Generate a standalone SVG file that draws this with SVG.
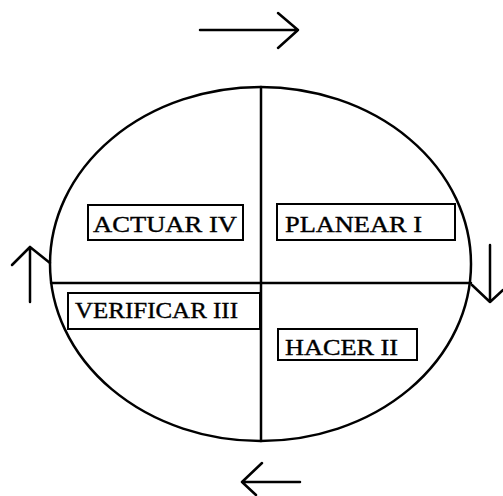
<svg xmlns="http://www.w3.org/2000/svg" width="503" height="496" viewBox="0 0 503 496">
<style>
.ln{fill:none;stroke:#000;stroke-width:2.5;stroke-linecap:round;stroke-linejoin:round}
.bx{fill:#fff;stroke:#000;stroke-width:2}
.tx{font-family:"Liberation Serif","Times New Roman",serif;font-size:24px;fill:#000;stroke:#000;stroke-width:0.4}
</style>
<rect width="503" height="496" fill="#fff"/>
<g id="cycle">
<ellipse cx="260.5" cy="264" rx="210.5" ry="177" class="ln" stroke-width="2"/>
<line x1="261" y1="87" x2="261" y2="441" class="ln"/>
<line x1="51" y1="283" x2="471" y2="283" class="ln"/>
</g>
<g id="actuar">
<rect x="88" y="205" width="155" height="35" class="bx"/>
<text x="93" y="232" class="tx" textLength="144" lengthAdjust="spacingAndGlyphs">ACTUAR IV</text>
</g>
<g id="planear">
<rect x="277" y="204" width="178" height="36" class="bx"/>
<text x="285" y="232" class="tx" textLength="137" lengthAdjust="spacingAndGlyphs">PLANEAR I</text>
</g>
<g id="verificar">
<rect x="68" y="293" width="192" height="36" class="bx"/>
<text x="75" y="318" class="tx" textLength="163" lengthAdjust="spacingAndGlyphs">VERIFICAR III</text>
</g>
<g id="hacer">
<rect x="278" y="329" width="139" height="31" class="bx"/>
<text x="285" y="355" class="tx" font-size="22" textLength="113" lengthAdjust="spacingAndGlyphs">HACER II</text>
</g>
<g id="connectors">
<path class="ln" d="M200 30 H298 M278 13 L298 30 L278 48"/>
<path class="ln" d="M490 245 V302 M472 285 L490 302 L503 290"/>
<path class="ln" d="M300 482 H242 M262 463 L242 482 L256 495"/>
<path class="ln" d="M30 302 V247 M12 265 L30 247 L50 263"/>
</g>
</svg>
